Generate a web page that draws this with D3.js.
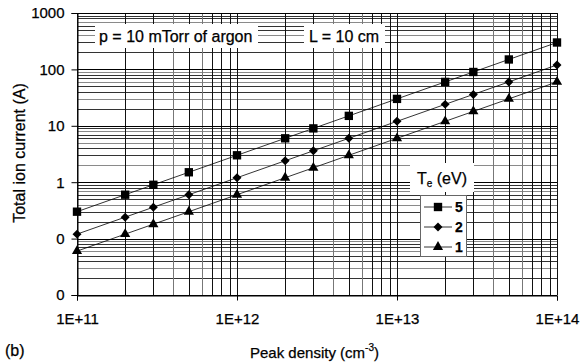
<!DOCTYPE html>
<html>
<head>
<meta charset="utf-8">
<script src="https://cdn.jsdelivr.net/npm/d3@7"></script>
<style>
body { margin: 0; background: #fff; }
text { font-family: "Liberation Sans", Arial, sans-serif; fill: #000; stroke: #000; stroke-width: 0.25px; }
</style>
</head>
<body>
<div id="canvas"></div>
<script>
// ----------------------------------------------------------
// DATA -----------------------------------------------------
// ----------------------------------------------------------
var densities = [1e11, 2e11, 3e11, 5e11, 1e12, 2e12, 3e12, 5e12, 1e13, 2e13, 3e13, 5e13, 1e14];
var current_te5 = [0.3, 0.6, 0.9, 1.5, 3, 6, 9, 15, 30, 60, 90, 150, 300];
var current_te2 = [0.12, 0.24, 0.36, 0.6, 1.2, 2.4, 3.6, 6, 12, 24, 36, 60, 120];
var current_te1 = [0.06, 0.12, 0.18, 0.3, 0.6, 1.2, 1.8, 3, 6, 12, 18, 30, 60];
var series_names = ["5", "2", "1"];
var y_ticks = [0.01, 0.1, 1, 10, 100, 1000];
var y_tick_labels = ["0", "0", "1", "10", "100", "1000"];
var x_ticks = [1e11, 1e12, 1e13, 1e14];
var x_tick_labels = ["1E+11", "1E+12", "1E+13", "1E+14"];

// marker: symbol type, area, rotation
var series = [
  { name: series_names[0], values: current_te5, symbol: d3.symbolSquare, size: 70, rot: 0 },
  { name: series_names[1], values: current_te2, symbol: d3.symbolSquare, size: 40, rot: 45 },
  { name: series_names[2], values: current_te1, symbol: d3.symbolTriangle, size: 45, rot: 0 }
];

// ----------------------------------------------------------
// STRUCTURE ------------------------------------------------
// ----------------------------------------------------------
var W = 582, H = 364;
var plot_l = 77, plot_r = 557, plot_t = 13, plot_b = 295;

var svg = d3.select("#canvas").append("svg")
  .attr("width", W)
  .attr("height", H);

var x = d3.scaleLog().domain([1e11, 1e14]).range([plot_l, plot_r]);
var y = d3.scaleLog().domain([0.01, 1000]).range([plot_b, plot_t]);
var px = (v) => Math.round(v) + 0.5;

// GRID -----------------------------------------------------
var grid = svg.append("g").attr("class", "grid");

// horizontal lines, minor then major
var hMinor = [];
for (var e = -2; e < 3; e++) for (var k = 2; k < 10; k++) hMinor.push(k * Math.pow(10, e));
grid.selectAll(".hminor").data(hMinor).enter().append("line")
  .attr("x1", plot_l).attr("x2", plot_r)
  .attr("y1", (d) => px(y(d))).attr("y2", (d) => px(y(d)))
  .attr("stroke", (d, i) => (i % 3 === 1 ? "#8a8a8a" : "#333"))
  .attr("stroke-width", 1);

// vertical lines
var vLines = [];
for (var e2 = 11; e2 < 14; e2++) for (var k2 = 1; k2 < 10; k2++) vLines.push(k2 * Math.pow(10, e2));
vLines.push(1e14);
grid.selectAll(".vline").data(vLines).enter().append("line")
  .attr("y1", plot_t).attr("y2", plot_b)
  .attr("x1", (d) => px(x(d))).attr("x2", (d) => px(x(d)))
  .attr("stroke", (d, i) => (i % 9 === 3 || i % 9 === 5 ? "#777" : "#111"))
  .attr("stroke-width", 1);

grid.selectAll(".hmajor").data(y_ticks).enter().append("line")
  .attr("x1", plot_l).attr("x2", plot_r)
  .attr("y1", (d) => px(y(d))).attr("y2", (d) => px(y(d)))
  .attr("stroke", "#000")
  .attr("stroke-width", 1);

// AXES -----------------------------------------------------
var yAxis = svg.append("g")
  .attr("transform", `translate(${px(plot_l)},0)`)
  .call(d3.axisLeft(y).tickValues(y_ticks).tickSize(6).tickPadding(7)
    .tickFormat((d, i) => y_tick_labels[i]));
yAxis.select(".domain").attr("stroke", "#000");
yAxis.selectAll(".tick line").attr("stroke", "#000");
yAxis.selectAll("text").attr("font-size", 15).attr("font-family", "Liberation Sans, Arial, sans-serif").attr("fill", "#000");

var xAxis = svg.append("g")
  .attr("transform", `translate(0,${px(plot_b)})`)
  .call(d3.axisBottom(x).tickValues(x_ticks).tickSize(5).tickPadding(13)
    .tickFormat((d, i) => x_tick_labels[i]));
xAxis.select(".domain").attr("stroke", "#000");
xAxis.selectAll(".tick line").attr("stroke", "#000");
xAxis.selectAll("text").attr("font-size", 15).attr("font-family", "Liberation Sans, Arial, sans-serif").attr("fill", "#000");

// TEXT BOXES -----------------------------------------------
svg.append("rect").attr("x", 95).attr("y", 24).attr("width", 163).attr("height", 24).attr("fill", "#fff");
svg.append("text").attr("x", 99).attr("y", 42).attr("font-size", 16).text("p = 10 mTorr of argon");
svg.append("rect").attr("x", 304).attr("y", 24).attr("width", 81).attr("height", 24).attr("fill", "#fff");
svg.append("text").attr("x", 309).attr("y", 42).attr("font-size", 16).text("L = 10 cm");

// SERIES ---------------------------------------------------
var line = d3.line()
  .x((d) => x(d[0]))
  .y((d) => y(d[1]));

var gfx = svg.append("g").attr("class", "series");
series.forEach(function (s) {
  var pts = densities.map((d, i) => [d, s.values[i]]);
  gfx.append("path")
    .datum(pts)
    .attr("d", line)
    .attr("fill", "none")
    .attr("stroke", "#000")
    .attr("stroke-width", 0.8);
  gfx.selectAll(null).data(pts).enter().append("path")
    .attr("d", d3.symbol().type(s.symbol).size(s.size))
    .attr("transform", (d) => `translate(${x(d[0])},${y(d[1])}) rotate(${s.rot})`)
    .attr("fill", "#000");
});

// LEGEND ---------------------------------------------------
svg.append("rect").attr("x", 410).attr("y", 163).attr("width", 64).attr("height", 29).attr("fill", "#fff");
var lt = svg.append("text").attr("x", 417).attr("y", 184).attr("font-size", 16);
lt.append("tspan").text("T");
lt.append("tspan").attr("font-size", 10).attr("dy", 3).text("e");
lt.append("tspan").attr("dy", -3).text(" (eV)");

svg.append("rect").attr("x", 420.5).attr("y", 195.5).attr("width", 46).attr("height", 61)
  .attr("fill", "#fff").attr("stroke", "#666").attr("stroke-width", 1);
var legend = svg.selectAll(".legend").data(series).enter().append("g")
  .attr("transform", (d, i) => `translate(0,${207 + i * 20})`);
legend.append("line").attr("x1", 424).attr("x2", 452).attr("y1", 0).attr("y2", 0)
  .attr("stroke", "#000").attr("stroke-width", 0.8);
legend.append("path")
  .attr("d", (d) => d3.symbol().type(d.symbol).size(d.size)())
  .attr("transform", (d) => `translate(438,0) rotate(${d.rot})`)
  .attr("fill", "#000");
legend.append("text").attr("x", 455).attr("y", 5).attr("font-size", 14).attr("font-weight", "bold")
  .text((d) => d.name);

// TITLES ---------------------------------------------------
svg.append("text")
  .attr("transform", "translate(25,153) rotate(-90)")
  .attr("text-anchor", "middle")
  .attr("font-size", 16)
  .text("Total ion current (A)");

var xt = svg.append("text").attr("x", 250).attr("y", 358).attr("font-size", 15);
xt.append("tspan").text("Peak density (cm");
xt.append("tspan").attr("font-size", 10).attr("dy", -7).text("-3");
xt.append("tspan").attr("dy", 7).text(")");

svg.append("text").attr("x", 5).attr("y", 356).attr("font-size", 16).text("(b)");
</script>
</body>
</html>
